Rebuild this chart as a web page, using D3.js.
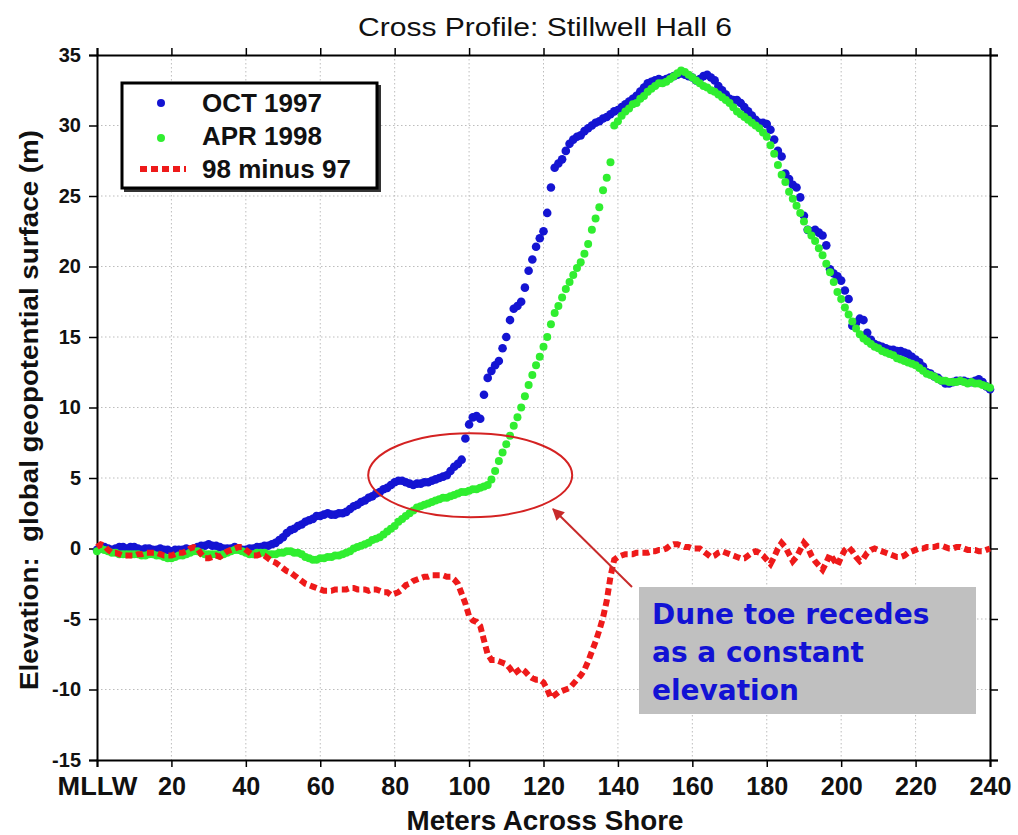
<!DOCTYPE html>
<html>
<head>
<meta charset="utf-8">
<script src="https://cdn.jsdelivr.net/npm/d3@7"></script>
<style>
body{margin:0;background:#fff;}
svg text{font-family:"Liberation Sans",Arial,sans-serif;}
</style>
</head>
<body>
<svg id="chart" width="1018" height="835"></svg>
<script>
// survey positions, 1 m apart
var meters = d3.range(0, 241);

var oct1997 = [
 -0.1,0.0,0.1,0.0,-0.1,0.0,0.1,0.1,0.0,0.1,
 0.1,0.0,-0.1,0.0,0.0,-0.1,-0.1,0.0,-0.1,-0.1,
 -0.2,-0.1,-0.1,-0.1,0.0,-0.1,0.0,0.1,0.2,0.2,
 0.3,0.2,0.2,0.1,0.0,0.0,0.0,0.1,0.0,-0.1,
 -0.1,0.0,0.0,0.1,0.1,0.2,0.2,0.3,0.4,0.6,
 0.8,1.1,1.3,1.4,1.6,1.7,1.9,2.0,2.1,2.3,
 2.3,2.4,2.5,2.4,2.4,2.5,2.5,2.6,2.8,3.0,
 3.1,3.3,3.4,3.6,3.7,3.9,4.0,4.2,4.3,4.5,
 4.7,4.8,4.8,4.7,4.6,4.5,4.6,4.6,4.7,4.7,
 4.8,4.9,5.0,5.1,5.2,5.5,5.8,6.0,6.3,7.8,
 8.8,9.3,9.4,9.2,10.9,12.1,12.6,13.0,13.3,14.2,
 15.0,16.2,17.0,17.2,17.5,18.5,19.7,20.5,21.4,22.0,
 22.5,23.8,25.6,27.0,27.3,27.6,28.2,28.7,29.0,29.2,
 29.3,29.6,29.8,30.0,30.2,30.3,30.5,30.6,30.8,31.0,
 31.1,31.3,31.5,31.7,31.9,32.1,32.4,32.7,33.0,33.1,
 33.2,33.3,33.2,33.3,33.4,33.5,33.6,33.7,33.6,33.5,
 33.4,33.2,33.3,33.5,33.6,33.4,33.2,32.8,32.5,32.2,
 31.9,31.8,31.8,31.6,31.3,31.0,30.7,30.4,30.2,30.2,
 30.1,29.7,29.0,28.2,27.8,26.6,26.2,25.8,25.6,24.9,
 23.6,22.6,22.5,22.6,22.4,22.2,21.5,19.8,19.5,19.3,
 19.0,18.3,17.7,15.8,16.0,16.3,16.2,15.3,14.8,14.5,
 14.4,14.3,14.2,14.1,14.1,14.0,14.0,13.9,13.8,13.6,
 13.4,13.2,12.9,12.5,12.4,12.2,12.1,11.9,11.7,11.7,
 11.8,11.9,11.9,11.9,11.8,11.8,11.9,12.0,11.8,11.5,
 11.3
];

var apr1998 = [
 -0.2,0.0,-0.1,-0.2,-0.3,-0.3,-0.4,-0.4,-0.4,-0.4,
 -0.4,-0.4,-0.5,-0.5,-0.4,-0.4,-0.5,-0.5,-0.6,-0.7,
 -0.7,-0.6,-0.5,-0.5,-0.4,-0.3,-0.2,-0.2,-0.3,-0.4,
 -0.4,-0.4,-0.4,-0.5,-0.4,-0.3,-0.2,-0.1,-0.1,-0.2,
 -0.3,-0.4,-0.4,-0.3,-0.3,-0.3,-0.4,-0.4,-0.4,-0.3,
 -0.3,-0.2,-0.2,-0.3,-0.3,-0.4,-0.6,-0.7,-0.8,-0.8,
 -0.7,-0.7,-0.6,-0.6,-0.5,-0.5,-0.4,-0.3,-0.2,0.0,
 0.1,0.2,0.3,0.4,0.6,0.7,0.8,1.0,1.2,1.4,
 1.6,1.9,2.1,2.3,2.5,2.7,2.9,3.0,3.1,3.2,
 3.3,3.4,3.5,3.6,3.6,3.7,3.8,3.9,4.0,4.0,
 4.1,4.2,4.2,4.3,4.4,4.5,4.9,5.5,6.2,6.8,
 7.4,8.0,8.7,9.3,10.0,10.8,11.6,12.3,13.0,13.6,
 14.3,15.0,15.9,16.7,17.2,17.8,18.4,18.9,19.4,19.9,
 20.3,20.9,21.6,22.6,23.4,24.2,25.4,26.3,27.4,30.0,
 30.3,30.7,31.0,31.2,31.5,31.6,31.9,32.1,32.4,32.6,
 32.8,33.0,33.0,33.1,33.3,33.5,33.7,33.9,33.8,33.6,
 33.4,33.2,33.0,32.8,32.7,32.5,32.4,32.2,32.0,31.8,
 31.6,31.3,31.0,30.8,30.6,30.4,30.2,30.0,29.8,29.5,
 29.2,28.6,28.0,27.2,26.5,26.0,25.3,24.8,24.3,23.8,
 23.2,22.6,22.2,21.8,21.3,20.8,20.2,19.6,18.9,18.2,
 17.7,17.1,16.6,16.1,15.6,15.2,14.9,14.7,14.5,14.3,
 14.2,14.0,13.9,13.8,13.7,13.5,13.4,13.3,13.2,13.1,
 13.0,12.8,12.6,12.4,12.3,12.2,12.0,11.9,11.9,11.8,
 11.8,11.8,11.9,11.8,11.7,11.8,11.7,11.7,11.6,11.5,
 11.4
];

var diff9897 = [
 0.1,0.3,0.2,-0.1,-0.3,-0.3,-0.4,-0.5,-0.5,-0.5,
 -0.5,-0.4,-0.4,-0.3,-0.3,-0.3,-0.3,-0.4,-0.5,-0.5,
 -0.5,-0.4,-0.3,-0.3,-0.2,0.0,0.1,0.0,-0.4,-0.7,
 -0.7,-0.6,-0.5,-0.6,-0.4,-0.2,-0.1,0.0,0.1,0.1,
 -0.1,-0.3,-0.5,-0.5,-0.4,-0.5,-0.7,-0.9,-1.0,-1.2,
 -1.4,-1.6,-1.7,-1.9,-2.1,-2.3,-2.5,-2.6,-2.7,-2.8,
 -2.9,-3.0,-3.0,-3.0,-2.9,-2.9,-2.9,-2.9,-2.8,-2.8,
 -2.9,-2.9,-2.9,-3.0,-2.9,-2.9,-3.0,-3.1,-3.1,-3.3,
 -3.2,-3.1,-2.9,-2.6,-2.5,-2.3,-2.2,-2.1,-2.0,-2.0,
 -1.9,-1.9,-1.9,-1.9,-2.0,-2.0,-2.2,-2.5,-3.2,-3.9,
 -4.8,-5.1,-5.2,-5.5,-6.5,-7.5,-7.9,-7.9,-8.0,-8.1,
 -8.2,-8.5,-8.9,-8.7,-8.5,-8.7,-9.0,-9.2,-9.3,-9.3,
 -9.5,-10.0,-10.6,-10.4,-10.2,-10.1,-10.0,-9.9,-9.6,-9.3,
 -9.0,-8.6,-8.0,-7.3,-6.6,-5.8,-4.9,-3.7,-2.0,-0.8,
 -0.6,-0.5,-0.4,-0.4,-0.4,-0.3,-0.3,-0.3,-0.3,-0.2,
 -0.2,-0.1,-0.1,0.0,0.2,0.3,0.3,0.2,0.1,0.1,
 0.0,0.0,0.0,-0.2,-0.4,-0.6,-0.5,-0.3,-0.2,-0.3,
 -0.4,-0.5,-0.6,-0.7,-0.7,-0.5,-0.3,-0.2,-0.3,-0.5,
 -0.8,-1.1,-0.6,0.0,0.4,0.1,-0.4,-0.9,-0.6,-0.1,
 0.4,0.1,-0.5,-0.9,-1.2,-1.5,-1.0,-0.4,-0.8,-1.2,
 -0.6,-0.1,0.1,-0.2,-0.6,-0.9,-0.7,-0.3,-0.1,0.0,
 -0.1,-0.2,-0.3,-0.4,-0.5,-0.6,-0.6,-0.5,-0.3,-0.2,
 -0.1,0.0,0.0,0.1,0.1,0.1,0.2,0.2,0.1,0.0,
 0.0,0.1,0.1,0.0,-0.1,-0.1,-0.1,-0.2,-0.2,-0.1,
 0.0
];

var xTicks = [0,20,40,60,80,100,120,140,160,180,200,220,240];
var xTickLabels = ['MLLW','20','40','60','80','100','120','140','160','180','200','220','240'];
var yTicks = [-15,-10,-5,0,5,10,15,20,25,30,35];
var legendLabels = ['OCT 1997','APR 1998','98 minus 97'];
var noteLines = ['Dune toe recedes','as a constant','elevation'];

var config = {
	left: 97, right: 990, top: 55, bottom: 760,
	blue: '#1414d2', green: '#30ee30', red: '#ee1a1a'
};

var svg = d3.select('#chart');

var x = d3.scaleLinear().domain([0,240]).range([config.left,config.right]);
var y = d3.scaleLinear().domain([-15,35]).range([config.bottom,config.top]);

// grid
var grid = svg.append('g').attr('stroke','#bdbdbd').attr('stroke-width',1).attr('stroke-dasharray','1.5,2.5');
grid.selectAll('.gx').data(xTicks.slice(1,-1)).enter().append('line')
	.attr('x1',d=>x(d)).attr('x2',d=>x(d)).attr('y1',config.top).attr('y2',config.bottom);
grid.selectAll('.gy').data(yTicks.slice(1,-1)).enter().append('line')
	.attr('y1',d=>y(d)).attr('y2',d=>y(d)).attr('x1',config.left).attr('x2',config.right);

//axes
var xAxis = d3.axisBottom(x).tickValues(xTicks).tickFormat((d,i)=>xTickLabels[i]).tickSize(7).tickPadding(8);
var yAxis = d3.axisLeft(y).tickValues(yTicks).tickFormat(d=>String(d)).tickSize(8).tickPadding(8);

var gx = svg.append('g').attr('transform','translate(0,'+config.bottom+')').call(xAxis);
gx.selectAll('text').attr('font-size',26).attr('font-weight','bold').attr('fill','#111')
	.attr('dy','0.76em')
	.attr('textLength',(d,i)=>i==0 ? 80 : xTickLabels[i].length*14)
	.attr('lengthAdjust','spacingAndGlyphs');
var gy = svg.append('g').attr('transform','translate('+config.left+',0)').call(yAxis);
gy.selectAll('text').attr('font-size',20).attr('font-weight','bold').attr('fill','#111');

svg.append('g').attr('transform','translate(0,'+config.top+')')
	.call(d3.axisTop(x).tickValues(xTicks).tickFormat('').tickSize(7));
svg.append('g').attr('transform','translate('+config.right+',0)')
	.call(d3.axisRight(y).tickValues(yTicks).tickFormat('').tickSize(8));

svg.selectAll('.domain').attr('stroke','#000').attr('stroke-width',2);
svg.selectAll('.tick line').attr('stroke','#000').attr('stroke-width',1.5);

// series
svg.append('g').selectAll('circle').data(meters).enter().append('circle')
	.attr('cx',d=>x(d)).attr('cy',(d,i)=>y(oct1997[i])).attr('r',4.3).attr('fill',config.blue);

svg.append('g').selectAll('circle').data(meters).enter().append('circle')
	.attr('cx',d=>x(d)).attr('cy',(d,i)=>y(apr1998[i])).attr('r',4).attr('fill',config.green);

var line = d3.line().x(d=>x(d)).y((d,i)=>y(diff9897[i]));
svg.append('path').datum(meters).attr('d',line)
	.attr('fill','none').attr('stroke',config.red).attr('stroke-width',6)
	.attr('stroke-dasharray','7,4');

// title + axis labels
svg.append('text').text('Cross Profile: Stillwell Hall 6')
	.attr('x',545).attr('y',36).attr('text-anchor','middle')
	.attr('font-size',25).attr('fill','#111')
	.attr('textLength',374).attr('lengthAdjust','spacingAndGlyphs');

svg.append('text').text('Meters Across Shore')
	.attr('x',545).attr('y',830).attr('text-anchor','middle')
	.attr('font-size',27).attr('font-weight','bold').attr('fill','#111')
	.attr('textLength',277).attr('lengthAdjust','spacingAndGlyphs');

svg.append('text').text('Elevation:  global geopotential surface (m)')
	.attr('transform','translate(38,410) rotate(-90)').attr('text-anchor','middle')
	.style('white-space','pre')
	.attr('font-size',25).attr('font-weight','bold').attr('fill','#111')
	.attr('textLength',560).attr('lengthAdjust','spacingAndGlyphs');

// legend
var legend = svg.append('g');
legend.append('rect').attr('x',124).attr('y',85).attr('width',257).attr('height',107)
	.attr('fill','#333');
legend.append('rect').attr('x',122).attr('y',83).attr('width',255).attr('height',105)
	.attr('fill','#fff').attr('stroke','#000').attr('stroke-width',3);
legend.append('circle').attr('cx',161).attr('cy',103).attr('r',4).attr('fill',config.blue);
legend.append('circle').attr('cx',161).attr('cy',138).attr('r',4).attr('fill',config.green);
legend.append('line').attr('x1',140).attr('x2',186).attr('y1',169).attr('y2',169)
	.attr('stroke',config.red).attr('stroke-width',6).attr('stroke-dasharray','7,4');
legend.selectAll('.lt').data(legendLabels).enter().append('text')
	.text(d=>d).attr('x',202).attr('y',(d,i)=>112+i*33)
	.attr('font-size',26).attr('font-weight','bold').attr('fill','#111');

// annotation
svg.append('defs').append('marker').attr('id','arr')
	.attr('viewBox','0 0 10 10').attr('refX',9).attr('refY',5)
	.attr('markerWidth',6).attr('markerHeight',6).attr('orient','auto')
	.append('path').attr('d','M0,0 L10,5 L0,10 Z').attr('fill','#c82a2a');

svg.append('ellipse').attr('cx',x(100.3)).attr('cy',y(5.2)).attr('rx',102).attr('ry',42)
	.attr('fill','none').attr('stroke','#d42222').attr('stroke-width',2);

svg.append('line').attr('x1',632).attr('y1',587).attr('x2',553).attr('y2',509)
	.attr('stroke','#c82a2a').attr('stroke-width',2).attr('marker-end','url(#arr)');

svg.append('rect').attr('x',639).attr('y',587).attr('width',337).attr('height',127).attr('fill','#c0c0c0');
svg.selectAll('.note').data(noteLines).enter().append('text')
	.text(d=>d).attr('x',652).attr('y',(d,i)=>624+i*38)
	.style('font-family','"DejaVu Sans",Verdana,sans-serif')
	.attr('font-size',28).attr('font-weight','bold').attr('fill','#1212d4');
</script>
</body>
</html>
